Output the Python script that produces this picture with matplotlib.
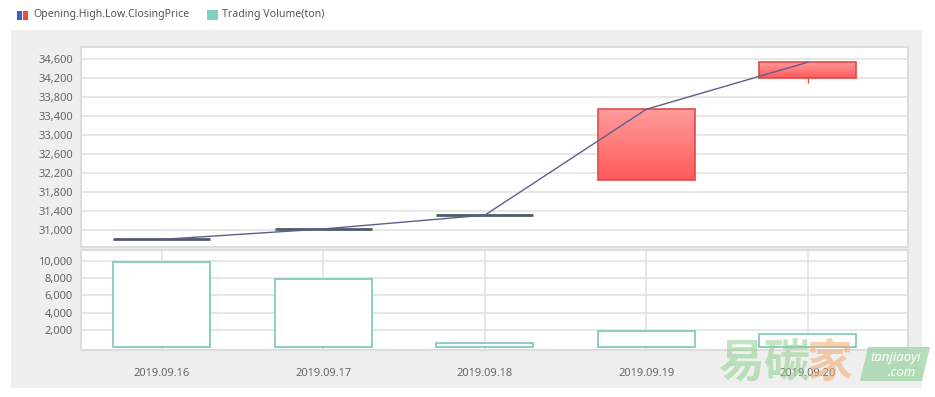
import numpy as np
import matplotlib.pyplot as plt
from matplotlib.patches import Rectangle, Polygon
from matplotlib.colors import LinearSegmentedColormap
from matplotlib.ticker import FuncFormatter

plt.rcParams['font.family'] = ['Noto Sans', 'DejaVu Sans']

# data
dates = ['2019.09.16', '2019.09.17', '2019.09.18', '2019.09.19', '2019.09.20']
open_p = [30800, 31020, 31310, 32040, 34190]
high_p = [30800, 31020, 31310, 33540, 34530]
low_p = [30800, 31020, 31310, 32040, 34100]
close_p = [30800, 31020, 31310, 33540, 34530]
volume = [9900, 7870, 480, 1850, 1500]

price_ticks = list(range(31000, 34601, 400))
vol_ticks = [2000, 4000, 6000, 8000, 10000]

W, H = 935, 397
fig = plt.figure(figsize=(W / 100, H / 100), dpi=100)
fig.patch.set_facecolor('white')


def px(x0, y0, x1, y1):
    # pixel box (top-left origin) -> figure fraction rect
    return [x0 / W, 1 - y1 / H, (x1 - x0) / W, (y1 - y0) / H]


# grey panel behind the plots
bg = px(11, 30, 922, 388)
fig.patches.append(Rectangle((bg[0], bg[1]), bg[2], bg[3], transform=fig.transFigure,
                             facecolor='#efefef', edgecolor='none', zorder=-5))

ax = fig.add_axes(px(81, 47, 908, 247))
axv = fig.add_axes(px(81, 250, 908, 350))
x = np.arange(len(dates))
fmt = FuncFormatter(lambda v, p: f'{v:,.0f}')
grid_c = '#e3e3e3'
tick_c = '#666666'

for a in (ax, axv):
    a.set_zorder(1)
    a.set_facecolor('white')
    for s in a.spines.values():
        s.set_color('#dddddd')
        s.set_linewidth(1.5)
    a.tick_params(length=0, labelsize=8, colors=tick_c)
    a.tick_params(axis='y', pad=6)
    a.set_xlim(-0.5, 4.62)
    a.yaxis.set_major_formatter(fmt)
    a.set_axisbelow(True)

# price panel
ax.set_ylim(30640, 34850)
ax.set_yticks(price_ticks)
ax.set_xticks([])
ax.grid(axis='y', color=grid_c, lw=1.2)

cmap = LinearSegmentedColormap.from_list('rd', ['#ff5a5a', '#ff9c9c'])
for i in range(len(dates)):
    if close_p[i] == open_p[i]:
        ax.hlines(open_p[i], x[i] - 0.3, x[i] + 0.3, color='#4f5b69', lw=2, zorder=3)
        continue
    lo, hi = min(open_p[i], close_p[i]), max(open_p[i], close_p[i])
    ax.vlines(x[i], low_p[i], high_p[i], color='#e84848', lw=1, zorder=2)
    bar = ax.bar(x[i], hi - lo, bottom=lo, width=0.6, color='none',
                 edgecolor='#e04a4a', lw=1.2, zorder=4)[0]
    grad = np.linspace(0, 1, 100).reshape(-1, 1)
    im = ax.imshow(grad, cmap=cmap, aspect='auto', origin='lower',
                   extent=[x[i] - 0.3, x[i] + 0.3, lo, hi], zorder=3)
    im.set_clip_path(bar)
ax.plot(x, close_p, color='#5e5e8e', lw=1, zorder=5)
ax.set_xlim(-0.5, 4.62)
ax.set_ylim(30640, 34850)

# volume panel
axv.set_ylim(-350, 11275)
axv.set_yticks(vol_ticks)
axv.set_xticks(x)
axv.set_xticklabels(dates)
axv.tick_params(axis='x', pad=13)
axv.grid(color=grid_c, lw=1.2)
axv.bar(x, volume, width=0.6, color='white', edgecolor='#7cc6b9', lw=1.2, zorder=3)

# legend
fig.patches.append(Rectangle((17 / W, 1 - 20 / H), 5 / W, 9 / H, transform=fig.transFigure,
                             facecolor='#3d5fd9', edgecolor='none'))
fig.patches.append(Rectangle((23 / W, 1 - 20 / H), 5 / W, 9 / H, transform=fig.transFigure,
                             facecolor='#ee4a35', edgecolor='none'))
fig.text(33 / W, 1 - 14.5 / H, 'Opening.High.Low.ClosingPrice', fontsize=7.6,
         color='#555555', va='center')
fig.patches.append(Rectangle((207 / W, 1 - 20 / H), 11 / W, 10 / H, transform=fig.transFigure,
                             facecolor='#7fcfc2', edgecolor='none'))
fig.text(222 / W, 1 - 14.5 / H, 'Trading Volume(ton)', fontsize=7.6,
         color='#555555', va='center')

# watermark
wm = ['Noto Sans CJK SC', 'DejaVu Sans']
wm_ax = fig.add_axes([0, 0, 1, 1], zorder=5)
wm_ax.axis('off')
wm_ax.set_xlim(0, W)
wm_ax.set_ylim(H, 0)
wm_ax.text(718, 364, '易碳', family=wm, fontsize=33, fontweight='bold',
           color='#8fcf8f', alpha=0.55, va='center')
wm_ax.text(807, 364, '家', family=wm, fontsize=33, fontweight='bold',
           color='#f2a871', alpha=0.55, va='center')
wm_ax.add_patch(Polygon([(860, 381), (868, 347), (930, 347), (922, 381)], closed=True,
                        facecolor='#9fd3a5', edgecolor='none', alpha=0.75))
wm_ax.text(896, 357, 'tanjiaoyi', fontsize=9.5, color='white',
           style='italic', ha='center', va='center')
wm_ax.text(902, 372, '.com', fontsize=9.5, color='white',
           style='italic', ha='center', va='center')

plt.savefig('out.png', dpi=100)
